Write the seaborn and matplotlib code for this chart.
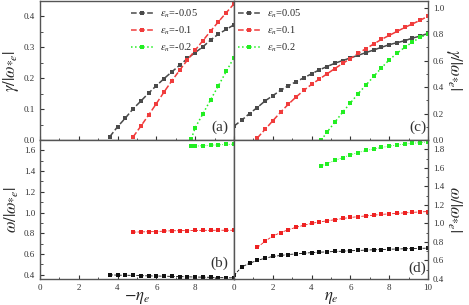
import matplotlib
matplotlib.use('Agg')
import matplotlib.pyplot as plt
import seaborn as sns
from matplotlib.ticker import MultipleLocator, FormatStrFormatter

sns.set_style('ticks')
plt.rcParams['font.family'] = ['Liberation Serif', 'DejaVu Serif']
plt.rcParams['mathtext.fontset'] = 'stix'

# (a) growth rate, eps_n < 0, x is -eta_e
a_x_blk = [3.6, 4.0, 4.4, 4.8, 5.2, 5.6, 6.0, 6.4, 6.8, 7.2, 7.6, 8.0, 8.4, 8.8, 9.2, 9.6, 10.0]
a_y_blk = [0.011, 0.043, 0.071, 0.101, 0.126, 0.152, 0.176, 0.199, 0.221, 0.242, 0.264, 0.283,
           0.302, 0.324, 0.343, 0.358, 0.373]
a_x_red = [4.8, 5.2, 5.6, 6.0, 6.4, 6.8, 7.2, 7.6, 8.0, 8.4, 8.8, 9.2, 9.6, 10.0]
a_y_red = [0.010, 0.045, 0.081, 0.118, 0.156, 0.192, 0.226, 0.259, 0.291, 0.322, 0.353, 0.383,
           0.412, 0.441]
a_x_grn = [7.8, 8.0, 8.4, 8.8, 9.2, 9.6, 10.0]
a_y_grn = [0.004, 0.040, 0.085, 0.131, 0.176, 0.222, 0.267]

# (b) real frequency, eps_n < 0
b_x_blk = a_x_blk
b_y_blk = [0.400, 0.397, 0.396, 0.395, 0.392, 0.390, 0.389, 0.387, 0.385, 0.383, 0.381, 0.379,
           0.378, 0.376, 0.374, 0.372, 0.371]
b_x_red = a_x_red
b_y_red = [0.812, 0.814, 0.816, 0.817, 0.822, 0.825, 0.826, 0.827, 0.828, 0.829, 0.829, 0.830,
           0.830, 0.830]
b_x_grn = [7.8, 8.0, 8.4, 8.8, 9.2, 9.6, 10.0]
b_y_grn = [1.638, 1.641, 1.645, 1.650, 1.653, 1.657, 1.660]

# (c) growth rate, eps_n > 0
c_x_blk = [0.0, 0.4, 0.8, 1.2, 1.6, 2.0, 2.4, 2.8, 3.2, 3.6, 4.0, 4.4, 4.8, 5.2, 5.6, 6.0, 6.4,
           6.8, 7.2, 7.6, 8.0, 8.4, 8.8, 9.2, 9.6, 10.0]
c_y_blk = [0.105, 0.150, 0.200, 0.245, 0.295, 0.335, 0.375, 0.410, 0.440, 0.470, 0.500, 0.530,
           0.555, 0.580, 0.600, 0.620, 0.640, 0.660, 0.680, 0.700, 0.720, 0.735, 0.750, 0.770,
           0.785, 0.805]
c_x_red = [1.2, 1.6, 2.0, 2.4, 2.8, 3.2, 3.6, 4.0, 4.4, 4.8, 5.2, 5.6, 6.0, 6.4, 6.8, 7.2, 7.6,
           8.0, 8.4, 8.8, 9.2, 9.6, 10.0]
c_y_red = [0.015, 0.080, 0.145, 0.210, 0.270, 0.325, 0.375, 0.420, 0.460, 0.500, 0.540, 0.578,
           0.615, 0.655, 0.690, 0.725, 0.760, 0.790, 0.820, 0.850, 0.877, 0.905, 0.935]
c_x_grn = [4.5, 4.8, 5.2, 5.6, 6.0, 6.4, 6.8, 7.2, 7.6, 8.0, 8.4, 8.8, 9.2, 9.6, 10.0]
c_y_grn = [0.0, 0.060, 0.135, 0.210, 0.280, 0.350, 0.415, 0.480, 0.545, 0.605, 0.655, 0.700,
           0.740, 0.775, 0.800]

# (d) real frequency, eps_n > 0
d_x_blk = c_x_blk
d_y_blk = [0.440, 0.530, 0.570, 0.600, 0.625, 0.643, 0.654, 0.664, 0.671, 0.678, 0.685, 0.689,
           0.693, 0.697, 0.700, 0.705, 0.708, 0.712, 0.715, 0.718, 0.721, 0.724, 0.726, 0.729,
           0.731, 0.733]
d_x_red = c_x_red
d_y_red = [0.740, 0.807, 0.864, 0.900, 0.932, 0.958, 0.980, 1.000, 1.016, 1.028, 1.040, 1.053,
           1.064, 1.073, 1.081, 1.089, 1.097, 1.103, 1.108, 1.114, 1.119, 1.124, 1.128]
d_x_grn = [4.5, 4.8, 5.2, 5.6, 6.0, 6.4, 6.8, 7.2, 7.6, 8.0, 8.4, 8.8, 9.2, 9.6, 10.0]
d_y_grn = [1.620, 1.645, 1.680, 1.710, 1.740, 1.765, 1.787, 1.803, 1.820, 1.833, 1.846, 1.856,
           1.864, 1.872, 1.880]

labels_neg = [r'$\varepsilon_n$=-0.05', r'$\varepsilon_n$=-0.1', r'$\varepsilon_n$=-0.2']
labels_pos = [r'$\varepsilon_n$=0.05', r'$\varepsilon_n$=0.1', r'$\varepsilon_n$=0.2']

fig = plt.figure(figsize=(4.69, 3.05), dpi=100)
W, H = 469, 305
def box(x0, y0, x1, y1):
    return [x0 / W, 1 - y1 / H, (x1 - x0) / W, (y1 - y0) / H]

ax_a = fig.add_axes(box(40, 1, 234, 140))
ax_b = fig.add_axes(box(40, 140, 234, 279))
ax_c = fig.add_axes(box(234, 1, 428, 140))
ax_d = fig.add_axes(box(234, 140, 428, 279))

top_cols = ['#4a4a4a', '#f03c3c', '#22ee22']
bot_cols = ['#111111', '#ee2222', '#22ee22']
styles = ['--', '--', ':']


def draw(ax, xs, ys, cols, labels=None, lw=1.0, ms=2.6):
    for i, (x, y) in enumerate(zip(xs, ys)):
        sns.lineplot(x=x, y=y, ax=ax, color=cols[i], marker='s', markersize=ms,
                     markeredgewidth=0, linestyle=styles[i], linewidth=lw,
                     label=None if labels is None else labels[i], legend=False)


draw(ax_a, [a_x_blk, a_x_red, a_x_grn], [a_y_blk, a_y_red, a_y_grn], top_cols, labels_neg, lw=1.1)
draw(ax_b, [b_x_blk, b_x_red, b_x_grn], [b_y_blk, b_y_red, b_y_grn], bot_cols, lw=0.6, ms=2.4)
draw(ax_c, [c_x_blk, c_x_red, c_x_grn], [c_y_blk, c_y_red, c_y_grn], top_cols, labels_pos, lw=1.1)
draw(ax_d, [d_x_blk, d_x_red, d_x_grn], [d_y_blk, d_y_red, d_y_grn], bot_cols, lw=0.6, ms=2.4)

ax_a.set_ylim(0, 0.45)
ax_b.set_ylim(0.36, 1.70)
ax_c.set_ylim(0, 1.05)
ax_d.set_ylim(0.4, 1.90)

for ax in (ax_a, ax_b, ax_c, ax_d):
    ax.set_xlim(0, 10)
    ax.xaxis.set_major_locator(MultipleLocator(2))
    ax.xaxis.set_minor_locator(MultipleLocator(1))
    ax.yaxis.set_major_formatter(FormatStrFormatter('%.1f'))
    ax.tick_params(which='both', direction='in', labelsize=6.5, colors='#333333')
    ax.tick_params(which='major', length=3, width=0.8)
    ax.tick_params(which='minor', length=1.8, width=0.6)
    for s in ax.spines.values():
        s.set_color('#555555')
        s.set_linewidth(1.0)
    ax.set_xlabel('')
    ax.set_ylabel('')

ax_a.yaxis.set_major_locator(MultipleLocator(0.1))
ax_a.yaxis.set_minor_locator(MultipleLocator(0.05))
for ax in (ax_b, ax_c, ax_d):
    ax.yaxis.set_major_locator(MultipleLocator(0.2))
    ax.yaxis.set_minor_locator(MultipleLocator(0.1))

ax_a.tick_params(labelbottom=False)
ax_c.tick_params(labelbottom=False)
for ax in (ax_c, ax_d):
    ax.yaxis.tick_right()
    ax.tick_params(which='both', left=False, right=True)
    ax.yaxis.set_label_position('right')

ax_b.set_xticks([0, 2, 4, 6, 8, 10])
ax_b.set_xticklabels(['0', '2', '4', '6', '8', ''])

ax_a.set_ylabel(r'$\gamma/|\omega_{*e}|$', fontsize=12, labelpad=2)
ax_b.set_ylabel(r'$\omega/|\omega_{*e}|$', fontsize=12, labelpad=2)
ax_c.set_ylabel(r'$\gamma/|\omega_{*e}|$', fontsize=12, rotation=270, labelpad=14)
ax_d.set_ylabel(r'$\omega/|\omega_{*e}|$', fontsize=12, rotation=270, labelpad=14)
ax_b.set_xlabel(r'$-\eta_e$', fontsize=12, labelpad=-1)
ax_d.set_xlabel(r'$\eta_e$', fontsize=12, labelpad=-1)

ax_a.legend(loc='upper left', bbox_to_anchor=(0.42, 1.02), frameon=False, fontsize=7.5,
            handlelength=2.2, labelspacing=0.45, handletextpad=0.6)
ax_c.legend(loc='upper left', bbox_to_anchor=(-0.03, 1.02), frameon=False, fontsize=7.5,
            handlelength=2.2, labelspacing=0.45, handletextpad=0.6)

for ax, t, xy in ((ax_a, '(a)', (0.97, 0.09)), (ax_b, '(b)', (0.97, 0.115)),
                  (ax_c, '(c)', (0.99, 0.09)), (ax_d, '(d)', (0.99, 0.08))):
    ax.text(xy[0], xy[1], t, transform=ax.transAxes, fontsize=11, ha='right', va='center',
            color='#333333')

fig.savefig('out.png', dpi=100)
